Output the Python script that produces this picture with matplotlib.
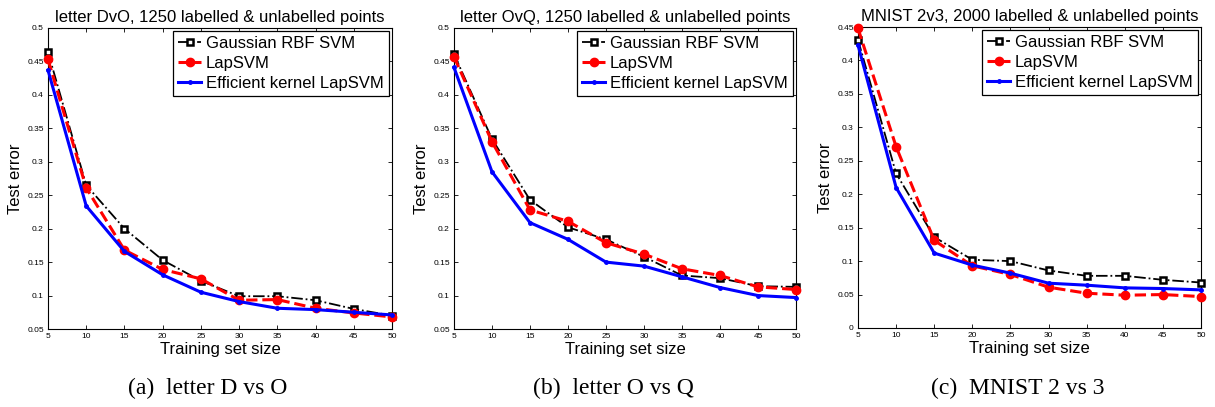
import numpy as np
import matplotlib
matplotlib.use('Agg')
import matplotlib.pyplot as plt

plt.rcParams['font.family'] = ['Liberation Sans', 'DejaVu Sans']

# training set sizes
sizes = [5, 10, 15, 20, 25, 30, 35, 40, 45, 50]

# letter D vs O
dvo_rbf = [0.464, 0.265, 0.200, 0.153, 0.122, 0.099, 0.099, 0.093, 0.080, 0.070]
dvo_lap = [0.453, 0.261, 0.168, 0.139, 0.125, 0.093, 0.094, 0.081, 0.074, 0.068]
dvo_eff = [0.437, 0.234, 0.166, 0.131, 0.105, 0.091, 0.081, 0.079, 0.075, 0.071]

# letter O vs Q
ovq_rbf = [0.461, 0.334, 0.243, 0.202, 0.184, 0.158, 0.130, 0.126, 0.114, 0.113]
ovq_lap = [0.457, 0.330, 0.228, 0.211, 0.179, 0.162, 0.140, 0.130, 0.113, 0.109]
ovq_eff = [0.441, 0.285, 0.209, 0.184, 0.150, 0.144, 0.128, 0.112, 0.100, 0.097]

# MNIST 2 vs 3
mnist_rbf = [0.431, 0.231, 0.136, 0.102, 0.100, 0.086, 0.078, 0.078, 0.072, 0.068]
mnist_lap = [0.448, 0.271, 0.131, 0.093, 0.080, 0.061, 0.052, 0.049, 0.050, 0.047]
mnist_eff = [0.423, 0.210, 0.112, 0.094, 0.082, 0.067, 0.064, 0.060, 0.059, 0.057]

titles = ['letter DvO, 1250 labelled & unlabelled points',
          'letter OvQ, 1250 labelled & unlabelled points',
          'MNIST 2v3, 2000 labelled & unlabelled points']
captions = ['(a)  letter D vs O', '(b)  letter O vs Q', '(c)  MNIST 2 vs 3']
ylims = [(0.05, 0.5), (0.05, 0.5), (0, 0.45)]
series = [(dvo_rbf, dvo_lap, dvo_eff),
          (ovq_rbf, ovq_lap, ovq_eff),
          (mnist_rbf, mnist_lap, mnist_eff)]

W, H = 1215, 407
fig = plt.figure(figsize=(W / 100, H / 100), dpi=100)

# axes boxes in pixels: left, right, top, bottom
boxes = [(48, 392, 28, 329), (454, 796, 28, 329), (858, 1201, 27, 328)]
cap_x = [208, 613, 1018]

for k in range(3):
    l, r, t, b = boxes[k]
    ax = fig.add_axes([l / W, 1 - b / H, (r - l) / W, (b - t) / H])
    rbf, lap, eff = series[k]
    ax.plot(sizes, rbf, color='black', linestyle='-.', linewidth=1.3,
            marker='s', markersize=5, markerfacecolor='white',
            markeredgecolor='black', markeredgewidth=1.8,
            label='Gaussian RBF SVM', clip_on=False, zorder=3)
    ax.plot(sizes, lap, color='red', linestyle='--', linewidth=2.2,
            marker='o', markersize=6, markerfacecolor='red',
            markeredgecolor='red', label='LapSVM', clip_on=False, zorder=3)
    ax.plot(sizes, eff, color='blue', linestyle='-', linewidth=2.2,
            marker='.', markersize=5, label='Efficient kernel LapSVM',
            clip_on=False, zorder=3)

    ax.set_xlim(5, 50)
    ax.set_ylim(*ylims[k])
    ax.set_xticks(sizes)
    ax.set_yticks(np.arange(ylims[k][0], ylims[k][1] + 0.001, 0.05))
    ax.set_yticklabels([('%g' % round(v, 2)) for v in ax.get_yticks()])
    ax.tick_params(direction='in', top=True, right=True, labelsize=6,
                   length=3, width=0.6, pad=3)
    for sp in ax.spines.values():
        sp.set_linewidth(0.8)

    ax.set_title(titles[k], fontsize=12, pad=4)
    ax.set_xlabel('Training set size', fontsize=12, labelpad=1)
    ax.set_ylabel('Test error', fontsize=12, labelpad=3)

    leg = ax.legend(loc='upper right', fontsize=12, borderaxespad=0.2,
                    handlelength=1.35, handletextpad=0.3, labelspacing=0.3,
                    borderpad=0.3, fancybox=False, framealpha=1,
                    edgecolor='black')
    leg.get_frame().set_linewidth(0.9)
    leg.set_zorder(5)

    fig.text(cap_x[k] / W, 1 - 388 / H, captions[k], ha='center', va='center',
             fontsize=17, family='Liberation Serif')

fig.savefig('out.png', dpi=100)
